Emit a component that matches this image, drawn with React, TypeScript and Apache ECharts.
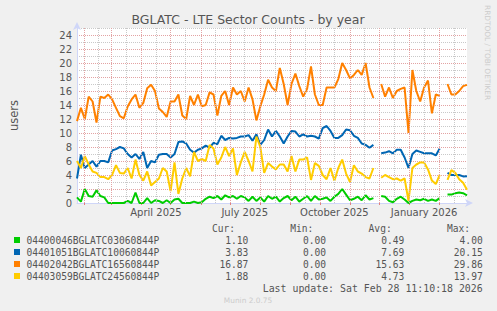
import React, { useEffect, useRef } from 'react';
import * as echarts from 'echarts';

// ---- data ----
const startDate = '2025-01-25';
const stepDays = 4;
const spanDays = 400;
const chartTitle = 'BGLATC - LTE Sector Counts - by year';
const yAxisName = 'users';
const seriesNames = [
  '04400046BGLATC03060844P',
  '04401051BGLATC10060844P',
  '04402042BGLATC16560844P',
  '04403059BGLATC24560844P',
];
const seriesColors = ['#00CC00', '#0066B3', '#FF8000', '#FFCC00'];

const greenValues = [
  0.8, 0.2, 2, 1, 0.9, 1.8, 1, 0.8, 0, 0, 0, 0, 0, 0.3, 0, 1.5, 0, 0, 0.7, 0, 0.4,
  0.3, 0, 0.4, 0, 0.5, 0.6, 0, 0, 0, 0.2, 0, 0.1, 0.6, 0.9, 0.7, 1, 0.5, 1.1, 0.8, 1, 0.6,
  1, 0.8, 0.3, 0.9, 0.3, 0.8, 0.2, 1, 0.6, 0.9, 0.2, 0.7, 1, 0.4, 0.9, 0.2, 0.6, 1, 0.3, 1, 0.5,
  0.6, 0.8, 0.3, 0.9, 1.3, 2, 1.2, 0.4, 0.6, 0.9, 0.4, 1.1, 0.5, 0.7, null, 1, 0.9, 0.3, 0.1, 0.6, 0.9,
  0.5, 0, 0.3, 0.5, 0.4, 0.6, 0.3, 0.5, 0.3, 0.7, null, 1.2, 1.2, 1.4, 1.5, 1.4, 1.1,
];
const blueValues = [
  3.5, 6.9, 5, 5.5, 6, 5.2, 6, 6, 5.8, 7.5, 7.7, 8, 7.8, 7, 6.5, 7, 6.3, 7.3, 5, 6, 5.8,
  6.9, 7, 7, 6.5, 7, 8.7, 8.8, 8.5, 7.6, 7.2, 7.6, 7.8, 8.2, 7.9, 8.6, 8.4, 9.6, 9, 9.3, 9.2, 9.3,
  9.5, 9.5, 9.7, 8.9, 9.8, 8.3, 9, 10.5, 9.5, 10.3, 9.5, 8.5, 9.5, 10.3, 10.2, 9.5, 9.8, 9.5, 9.6, 9.5, 9.2,
  10.7, 11, 10.3, 9.3, 9.3, 9.7, 10.5, 10.4, 9.6, 9.3, 8.5, 8.3, 7.9, 8.3, null, 7.1, 7.2, 7.4, 7.1, 7.6, 7.6,
  6.5, 5, 7, 7.5, 7.3, 7.1, 7.1, 7.1, 6.8, 7.8, null, 4.3, 4, 4, 4, 3.8, 3.83,
];
const orangeValues = [
  11.7, 13.6, 12, 15.2, 14.5, 11.5, 15.2, 15, 15.5, 14.8, 13.6, 12.4, 12.1, 13.8, 14.8, 15.5, 13.6, 14.3, 16.4, 16.9, 16,
  13.5, 13, 12.3, 14.5, 14.5, 15.5, 12.5, 12, 15.3, 14, 15.5, 13.8, 14, 15.8, 15.5, 12.5, 15.3, 16, 14, 16.5, 15.5,
  16, 14.5, 16.5, 14.8, 11.8, 13.8, 15.5, 17.6, 16.5, 16, 19.3, 17, 14, 17, 18.5, 16.7, 15.2, 16.3, 19.5, 15.5, 14,
  14, 16.5, 16.5, 16.5, 17.7, 20, 19, 17.8, 18.3, 19, 18.3, 20, 16.5, 15, null, 17, 15.2, 16.5, 15, 16, 16.3,
  16.5, 10, 19, 16, 14.5, 16.5, 17.5, 12.8, 15.5, 15.3, null, 17, 15.5, 15.5, 16, 16.7, 16.87,
];
const yellowValues = [
  6, 5, 6.7, 5.5, 4.5, 4.3, 3.7, 3.7, 3.4, 4, 5.4, 4.3, 4.2, 5, 3.5, 6.2, 4, 3.2, 4.5, 2.5, 3,
  3.5, 5, 4.5, 1.7, 5.8, 1.3, 3.5, 5, 3.8, 7.3, 6, 6.3, 6, 8.3, 7.8, 5.5, 6.5, 8, 6.7, 7.8, 4,
  5.8, 7.3, 6, 4.5, 9.5, 8, 4.3, 5.7, 5.2, 4.8, 5.5, 5.5, 4.5, 6.7, 4.5, 6.2, 6.2, 6.5, 3.3, 5.7, 5.3,
  4, 3.4, 5, 3.2, 5, 6.2, 4.2, 3, 5.4, 4.5, 4.2, 3.7, 3.5, 5, null, 3.6, 4, 3.7, 3.4, 3.5, 3.2,
  3.5, 0.3, 5, 5.5, 5.8, 5.8, 4.8, 3.2, 2.7, 4, null, 3.3, 4.7, 4.3, 3.4, 2.9, 1.88,
];

const curValues = ['1.10', '3.83', '16.87', '1.88'];
const minValues = ['0.00', '0.00', '0.00', '0.00'];
const avgValues = ['0.49', '7.69', '15.63', '4.73'];
const maxValues = ['4.00', '20.15', '29.86', '13.97'];
const columnHeaders = ['Cur:', 'Min:', 'Avg:', 'Max:'];

const monthStarts = [
  '2025-02-01', '2025-03-01', '2025-04-01', '2025-05-01', '2025-06-01', '2025-07-01', '2025-08-01',
  '2025-09-01', '2025-10-01', '2025-11-01', '2025-12-01', '2026-01-01', '2026-02-01',
];
const midMonths = [
  '2025-02-16', '2025-03-16', '2025-04-16', '2025-05-16', '2025-06-16', '2025-07-16', '2025-08-16',
  '2025-09-16', '2025-10-16', '2025-11-16', '2025-12-16', '2026-01-16', '2026-02-16',
];
const xLabelDates = ['2025-04-16', '2025-07-16', '2025-10-16', '2026-01-16'];
const xLabelTexts = ['April 2025', 'July 2025', 'October 2025', 'January 2026'];
const yMax = 25;
const lastUpdate = 'Last update: Sat Feb 28 11:10:18 2026';
const footer = 'Munin 2.0.75';
const sideText = 'RRDTOOL / TOBI OETIKER';

const DAY = 86400000;
const ms = (d: string) => Date.parse(d + 'T00:00:00Z');
const dayOf = (d: string) => Math.round((ms(d) - ms(startDate)) / DAY);

export default function App() {
  const ref = useRef<HTMLDivElement>(null);
  useEffect(() => {
    if (!ref.current) return;
    const chart = echarts.init(ref.current, null, { renderer: 'svg' });
    const allValues = [greenValues, blueValues, orangeValues, yellowValues];
    const textColor = '#555555';
    const majorGrid = '#e3a3a3';
    const minorGrid = '#c9c9c9';
    const axisColor = '#cfd6f8';
    const mono = '"DejaVu Sans Mono", monospace';
    const sans = '"DejaVu Sans", sans-serif';

    const rowY = [240, 252, 264, 276];
    const valueRight = [248.3, 326, 404.3, 482.7];
    const headerRight = [235, 313.3, 391.7, 470];
    const cols = [curValues, minValues, avgValues, maxValues];

    const graphics: any[] = [];
    graphics.push({
      type: 'text', x: 248, y: 19,
      style: { text: chartTitle, font: `12.5px ${sans}`, fill: textColor, textAlign: 'center', textVerticalAlign: 'middle' },
    });
    graphics.push({
      type: 'text', x: 487, y: 5, rotation: -Math.PI / 2,
      style: { text: sideText, font: `7.4px ${sans}`, fill: '#cccccc', textAlign: 'left', textVerticalAlign: 'middle' },
    });
    columnHeaders.forEach((h, i) => {
      graphics.push({
        type: 'text', x: headerRight[i], y: 228,
        style: { text: h, font: `9.6px ${mono}`, fill: textColor, textAlign: 'right', textVerticalAlign: 'middle' },
      });
    });
    seriesNames.forEach((name, r) => {
      graphics.push({
        type: 'rect', shape: { x: 14, y: rowY[r] - 3, width: 6, height: 6 },
        style: { fill: seriesColors[r] },
      });
      graphics.push({
        type: 'text', x: 26.5, y: rowY[r],
        style: { text: name, font: `9.6px ${mono}`, fill: textColor, textAlign: 'left', textVerticalAlign: 'middle' },
      });
      cols.forEach((col, c) => {
        graphics.push({
          type: 'text', x: valueRight[c], y: rowY[r],
          style: { text: col[r], font: `9.6px ${mono}`, fill: textColor, textAlign: 'right', textVerticalAlign: 'middle' },
        });
      });
    });
    graphics.push({
      type: 'text', x: 482.7, y: 288,
      style: { text: lastUpdate, font: `9.9px ${mono}`, fill: textColor, textAlign: 'right', textVerticalAlign: 'middle' },
    });
    graphics.push({
      type: 'text', x: 248, y: 300.5,
      style: { text: footer, font: `7.4px ${sans}`, fill: '#cccccc', textAlign: 'center', textVerticalAlign: 'middle' },
    });

    const labelDays = xLabelDates.map(dayOf);

    chart.setOption({
      animation: false,
      backgroundColor: '#f0f0f0',
      grid: { left: 67, right: 30, top: 28, bottom: 108, show: true, backgroundColor: '#ffffff', borderWidth: 0 },
      xAxis: {
        type: 'value',
        min: 0,
        max: spanDays,
        axisLine: {
          show: true, onZero: false, lineStyle: { color: axisColor, width: 1 },
          symbol: ['none', 'arrow'], symbolSize: [6, 8], symbolOffset: [0, 6],
        },
        axisTick: {
          show: true, length: 2, inside: false, customValues: monthStarts.map(dayOf),
          lineStyle: { color: '#e08080' },
        },
        splitLine: { show: false },
        axisLabel: {
          customValues: labelDays,
          margin: 4,
          color: textColor,
          fontSize: 10,
          fontFamily: sans,
          hideOverlap: false,
          formatter: (v: number) => {
            const i = labelDays.indexOf(Math.round(v));
            return i >= 0 ? xLabelTexts[i] : '';
          },
        },
      },
      yAxis: {
        type: 'value',
        min: 0,
        max: yMax,
        interval: 1,
        axisLine: {
          show: true, lineStyle: { color: axisColor, width: 1 },
          symbol: ['none', 'arrow'], symbolSize: [6, 8], symbolOffset: [0, 6],
        },
        axisTick: { show: false },
        axisLabel: {
          margin: 5, color: textColor, fontSize: 10, fontFamily: sans,
          formatter: (v: number) => (v % 2 === 0 ? String(v) : ''),
        },
        splitLine: {
          show: true,
          lineStyle: { color: [majorGrid, minorGrid], type: [1, 1], width: 1 },
        },
        name: yAxisName,
        nameLocation: 'middle',
        nameGap: 57,
        nameTextStyle: { color: textColor, fontSize: 11.5, fontFamily: sans },
      },
      graphic: graphics,
      series: [
        {
          type: 'line',
          name: 'grid',
          data: [],
          silent: true,
          markLine: {
            silent: true,
            symbol: ['none', 'none'],
            label: { show: false },
            data: [
              ...midMonths.map((d) => ({ xAxis: dayOf(d), lineStyle: { color: minorGrid, type: [1, 1], width: 1 } })),
              ...monthStarts.map((d) => ({ xAxis: dayOf(d), lineStyle: { color: majorGrid, type: [1, 1], width: 1 } })),
            ],
          },
        },
        ...allValues.map((vals, s) => ({
          type: 'line',
          name: seriesNames[s],
          data: vals.map((v, i) => [i * stepDays, v]),
          showSymbol: false,
          symbol: 'none',
          connectNulls: false,
          silent: true,
          lineStyle: { color: seriesColors[s], width: 2 },
          itemStyle: { color: seriesColors[s] },
        })),
      ],
    });
    return () => chart.dispose();
  }, []);
  return (
    <div
      ref={ref}
      style={{ position: 'fixed', left: 0, top: 0, width: 497, height: 311, background: '#f0f0f0' }}
    />
  );
}
